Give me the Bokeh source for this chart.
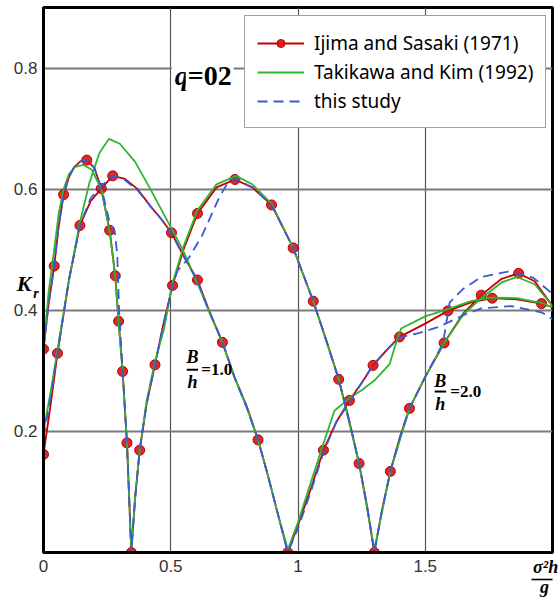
from bokeh.plotting import figure
from bokeh.models import Range1d, FixedTicker, Label, Legend, LegendItem, LinearAxis
from bokeh.embed import file_html
from bokeh.resources import INLINE

# ---------------- data ----------------
x_ticks = [0, 0.5, 1, 1.5]
x_tick_labels = ["0", "0.5", "1", "1.5"]
y_ticks = [0.2, 0.4, 0.6, 0.8]
y_tick_labels = ["0.2", "0.4", "0.6", "0.8"]
series_names = ["Ijima and Sasaki (1971)", "Takikawa and Kim (1992)", "this study"]

# B/h = 2.0 ---------------------------------------------------------------
ijima_b2_line_x = [0, 0.02, 0.042, 0.06, 0.079, 0.1, 0.12, 0.145, 0.17, 0.2, 0.227, 0.26,
                   0.282, 0.295, 0.311, 0.328, 0.345, 0.36, 0.378, 0.405, 0.438, 0.47, 0.507,
                   0.55, 0.605, 0.68, 0.752, 0.82, 0.896, 0.981, 1.06, 1.11, 1.16, 1.2, 1.24,
                   1.27, 1.30, 1.33, 1.363, 1.4, 1.438, 1.5, 1.574, 1.65, 1.72, 1.8, 1.867,
                   1.93, 2.0]
ijima_b2_line_y = [0.336, 0.41, 0.473, 0.54, 0.591, 0.62, 0.636, 0.646, 0.648, 0.635, 0.601,
                   0.532, 0.457, 0.382, 0.299, 0.181, 0.0, 0.09, 0.169, 0.245, 0.31, 0.375,
                   0.441, 0.5, 0.56, 0.603, 0.616, 0.603, 0.574, 0.503, 0.415, 0.352, 0.286,
                   0.22, 0.147, 0.08, 0.0, 0.07, 0.134, 0.19, 0.238, 0.29, 0.346, 0.395,
                   0.425, 0.452, 0.461, 0.448, 0.407]
ijima_b2_dots_x = [0, 0.042, 0.079, 0.17, 0.26, 0.282, 0.295, 0.311, 0.328, 0.345, 0.378,
                   0.438, 0.507, 0.605, 0.752, 0.896, 0.981, 1.06, 1.16, 1.24, 1.30, 1.363,
                   1.438, 1.574, 1.72, 1.867]
ijima_b2_dots_y = [0.336, 0.473, 0.591, 0.648, 0.532, 0.457, 0.382, 0.299, 0.181, 0.0, 0.169,
                   0.31, 0.441, 0.56, 0.616, 0.574, 0.503, 0.415, 0.286, 0.147, 0.0, 0.134,
                   0.238, 0.346, 0.425, 0.461]
takikawa_b2_x = [0, 0.02, 0.042, 0.06, 0.079, 0.1, 0.125, 0.157, 0.19, 0.227, 0.26, 0.282,
                 0.295, 0.311, 0.328, 0.345, 0.36, 0.378, 0.405, 0.438, 0.474, 0.507, 0.55,
                 0.605, 0.68, 0.756, 0.82, 0.896, 0.981, 1.06, 1.16, 1.24, 1.30, 1.363,
                 1.438, 1.5, 1.574, 1.65, 1.72, 1.8, 1.86, 1.93, 2.0]
takikawa_b2_y = [0.336, 0.43, 0.5, 0.56, 0.6, 0.625, 0.637, 0.64, 0.632, 0.6, 0.53, 0.455,
                 0.382, 0.299, 0.181, 0.005, 0.09, 0.17, 0.25, 0.315, 0.37, 0.445, 0.505,
                 0.565, 0.608, 0.622, 0.608, 0.576, 0.503, 0.415, 0.286, 0.147, 0.005, 0.134,
                 0.238, 0.29, 0.346, 0.393, 0.42, 0.446, 0.455, 0.443, 0.407]
study_b2_x = [0, 0.02, 0.042, 0.06, 0.079, 0.1, 0.12, 0.145, 0.17, 0.2, 0.227, 0.26, 0.28,
              0.29, 0.297, 0.311, 0.328, 0.345, 0.36, 0.378, 0.405, 0.438, 0.47, 0.507, 0.526,
              0.572, 0.625, 0.69, 0.723, 0.752, 0.82, 0.896, 0.981, 1.06, 1.11, 1.16, 1.2,
              1.24, 1.27, 1.30, 1.33, 1.363, 1.4, 1.438, 1.5, 1.57, 1.596, 1.648, 1.72,
              1.826, 1.924, 2.0]
study_b2_y = [0.336, 0.41, 0.473, 0.54, 0.591, 0.62, 0.636, 0.646, 0.648, 0.635, 0.603,
              0.545, 0.53, 0.49, 0.4, 0.299, 0.181, 0.0, 0.09, 0.169, 0.245, 0.31, 0.375,
              0.44, 0.465, 0.487, 0.525, 0.586, 0.61, 0.618, 0.603, 0.574, 0.503, 0.415,
              0.352, 0.286, 0.22, 0.147, 0.08, 0.0, 0.07, 0.134, 0.19, 0.238, 0.29, 0.346,
              0.413, 0.435, 0.455, 0.464, 0.454, 0.427]

# B/h = 1.0 ---------------------------------------------------------------
ijima_b1_line_x = [0, 0.03, 0.055, 0.1, 0.143, 0.185, 0.227, 0.272, 0.32, 0.37, 0.42, 0.46,
                   0.503, 0.55, 0.605, 0.65, 0.703, 0.75, 0.8, 0.843, 0.88, 0.92, 0.96, 1.0,
                   1.05, 1.1, 1.15, 1.202, 1.25, 1.295, 1.35, 1.399, 1.5, 1.589, 1.68, 1.763,
                   1.86, 1.957, 2.0]
ijima_b1_line_y = [0.162, 0.25, 0.329, 0.45, 0.54, 0.58, 0.601, 0.622, 0.617, 0.6, 0.572,
                   0.552, 0.528, 0.49, 0.45, 0.4, 0.347, 0.29, 0.24, 0.186, 0.13, 0.065, 0.0,
                   0.045, 0.105, 0.169, 0.215, 0.251, 0.28, 0.309, 0.335, 0.356, 0.378,
                   0.399, 0.413, 0.42, 0.418, 0.411, 0.405]
ijima_b1_dots_x = [0, 0.055, 0.143, 0.227, 0.272, 0.503, 0.605, 0.703, 0.843, 0.96, 1.1,
                   1.202, 1.295, 1.399, 1.589, 1.763, 1.957]
ijima_b1_dots_y = [0.162, 0.329, 0.54, 0.601, 0.622, 0.528, 0.45, 0.347, 0.186, 0.0, 0.169,
                   0.251, 0.309, 0.356, 0.399, 0.42, 0.411]
takikawa_b1_x = [0, 0.03, 0.055, 0.1, 0.143, 0.18, 0.22, 0.257, 0.3, 0.36, 0.42, 0.48,
                 0.546, 0.605, 0.65, 0.703, 0.75, 0.8, 0.843, 0.88, 0.92, 0.96, 1.0, 1.05,
                 1.104, 1.143, 1.202, 1.25, 1.3, 1.36, 1.38, 1.405, 1.5, 1.589, 1.68, 1.763,
                 1.86, 1.957, 2.0]
takikawa_b1_y = [0.2, 0.27, 0.335, 0.45, 0.545, 0.61, 0.66, 0.683, 0.675, 0.645, 0.6, 0.553,
                 0.501, 0.445, 0.398, 0.347, 0.29, 0.238, 0.186, 0.13, 0.065, 0.005, 0.05,
                 0.115, 0.185, 0.234, 0.255, 0.268, 0.284, 0.311, 0.339, 0.37, 0.39, 0.402,
                 0.415, 0.421, 0.42, 0.412, 0.405]
study_b1_x = [0, 0.03, 0.055, 0.1, 0.143, 0.185, 0.227, 0.272, 0.32, 0.37, 0.42, 0.46,
              0.503, 0.55, 0.605, 0.65, 0.703, 0.75, 0.8, 0.843, 0.88, 0.92, 0.96, 1.0, 1.05,
              1.1, 1.15, 1.202, 1.25, 1.295, 1.35, 1.399, 1.47, 1.55, 1.65, 1.72, 1.84, 1.96,
              2.0]
study_b1_y = [0.19, 0.26, 0.33, 0.45, 0.54, 0.585, 0.605, 0.622, 0.615, 0.598, 0.572, 0.552,
              0.527, 0.49, 0.448, 0.4, 0.347, 0.29, 0.238, 0.186, 0.13, 0.065, 0.0, 0.04,
              0.1, 0.165, 0.215, 0.248, 0.28, 0.31, 0.335, 0.355, 0.362, 0.372, 0.392,
              0.403, 0.407, 0.396, 0.385]

# axis-title texts
y_title_tick = [0.444]
y_title_text = ["\u2002K"]
x_title_tick = [1.973]
x_title_text = ["σ²h"]
x_denom_tick = [1.969]
x_denom_text = ["g"]

SERIF = "Liberation Serif"

# ---------------- figure ----------------
p = figure(width=560, height=603, x_range=Range1d(0, 2.0), y_range=Range1d(0, 0.9),
           output_backend="svg", toolbar_location=None,
           min_border_left=43, min_border_right=8, min_border_top=7, min_border_bottom=51)
p.background_fill_color = "white"
p.border_fill_color = "white"
p.outline_line_color = "black"
p.outline_line_width = 3

for ax, ticks, labels in ((p.xaxis[0], x_ticks, x_tick_labels), (p.yaxis[0], y_ticks, y_tick_labels)):
    ax.ticker = FixedTicker(ticks=ticks)
    ax.major_label_overrides = {t: l for t, l in zip(ticks, labels)}
    ax.axis_line_color = "black"
    ax.axis_line_width = 3
    ax.major_tick_line_color = None
    ax.minor_tick_line_color = None
    ax.major_tick_out = 0
    ax.minor_tick_out = 0
    ax.major_label_text_font = "Liberation Sans"
    ax.major_label_text_font_size = "17px"
    ax.major_label_text_color = "#333333"
p.xaxis[0].major_label_standoff = 7
p.yaxis[0].major_label_standoff = 6

p.xgrid.grid_line_color = "#555555"
p.xgrid.grid_line_width = 1.2
p.ygrid.grid_line_color = "#7a7a7a"
p.ygrid.grid_line_width = 1.8


def title_axis(ticks, texts, size, standoff, line=False, bounds=None):
    ax = LinearAxis(ticker=FixedTicker(ticks=ticks),
                    major_label_overrides={t: s for t, s in zip(ticks, texts)},
                    axis_line_color="black" if line else None, axis_line_width=1.6,
                    major_tick_line_color=None, minor_tick_line_color=None,
                    major_tick_out=0, minor_tick_out=0, major_tick_in=0, minor_tick_in=0,
                    major_label_standoff=standoff, major_label_text_font=SERIF,
                    major_label_text_font_style="bold italic",
                    major_label_text_font_size=size, major_label_text_color="black")
    if bounds is not None:
        ax.bounds = bounds
    return ax

# K (y title) and sigma^2 h / g (x title) drawn as extra axes so they sit outside the frame
p.add_layout(title_axis(y_title_tick, y_title_text, "22px", -21), "left")
p.add_layout(title_axis(x_title_tick, x_title_text, "18px", -18), "below")
p.add_layout(title_axis(x_denom_tick, x_denom_text, "18px", -3, line=True,
                        bounds=(1.917, 2.0)), "below")

RED = "#c40000"
GREEN = "#2fb52f"
BLUE = "#3a5ad6"

r_line2 = p.line(ijima_b2_line_x, ijima_b2_line_y, line_color=RED, line_width=1.8)
p.line(ijima_b1_line_x, ijima_b1_line_y, line_color=RED, line_width=1.8)
r_dots2 = p.scatter(ijima_b2_dots_x, ijima_b2_dots_y, size=10, fill_color="#d41414",
                    line_color="#b80000", fill_alpha=0.9)
p.scatter(ijima_b1_dots_x, ijima_b1_dots_y, size=10, fill_color="#d41414",
          line_color="#b80000", fill_alpha=0.9)
g_line2 = p.line(takikawa_b2_x, takikawa_b2_y, line_color=GREEN, line_width=1.8)
p.line(takikawa_b1_x, takikawa_b1_y, line_color=GREEN, line_width=1.8)
b_line2 = p.line(study_b2_x, study_b2_y, line_color=BLUE, line_width=1.8, line_dash="10 6")
p.line(study_b1_x, study_b1_y, line_color=BLUE, line_width=1.8, line_dash="10 6")

legend = Legend(items=[LegendItem(label=series_names[0], renderers=[r_line2, r_dots2]),
                       LegendItem(label=series_names[1], renderers=[g_line2]),
                       LegendItem(label=series_names[2], renderers=[b_line2])],
                location=(201, 424), margin=0, padding=12, spacing=0,
                label_height=29, glyph_width=47, glyph_height=20, label_standoff=10,
                label_text_font="Noto Sans", label_text_font_size="19px",
                label_text_color="black", border_line_color="#444444",
                border_line_width=1, background_fill_color="white", background_fill_alpha=1)
p.add_layout(legend)


def lab(x, y, text, size, style="bold", align="left", place="center", **kw):
    p.add_layout(Label(x=x, y=y, text=text, text_font=SERIF, text_font_style=style,
                       text_font_size=size, text_align=align, text_baseline="middle",
                       text_color="black", **kw), place)

# q=02
lab(0.5, 0.787, "q", "28px", style="bold italic", x_offset=1,
    background_fill_color="white", padding=3)
lab(0.5, 0.787, "=02", "28px", x_offset=15, background_fill_color="white", padding=2)

# B/h = 1.0
lab(0.585, 0.3223, "B", "18px", style="bold italic", align="center")
lab(0.585, 0.2809, "h", "18px", style="bold italic", align="center")
lab(0.62, 0.3027, "=1.0", "17px")
p.line([0.563, 0.607], [0.3017, 0.3017], line_color="black", line_width=2)

# B/h = 2.0
lab(1.559, 0.2825, "B", "18px", style="bold italic", align="center")
lab(1.559, 0.2446, "h", "18px", style="bold italic", align="center")
lab(1.598, 0.2655, "=2.0", "17px")
p.line([1.537, 1.582], [0.2658, 0.2658], line_color="black", line_width=2)

# subscript r of K_r (side panel so that it is not clipped by the frame)
lab(-0.04, 0.4269, "r", "14px", style="bold italic", place="right")

open("out.html", "w").write(file_html(p, INLINE))
